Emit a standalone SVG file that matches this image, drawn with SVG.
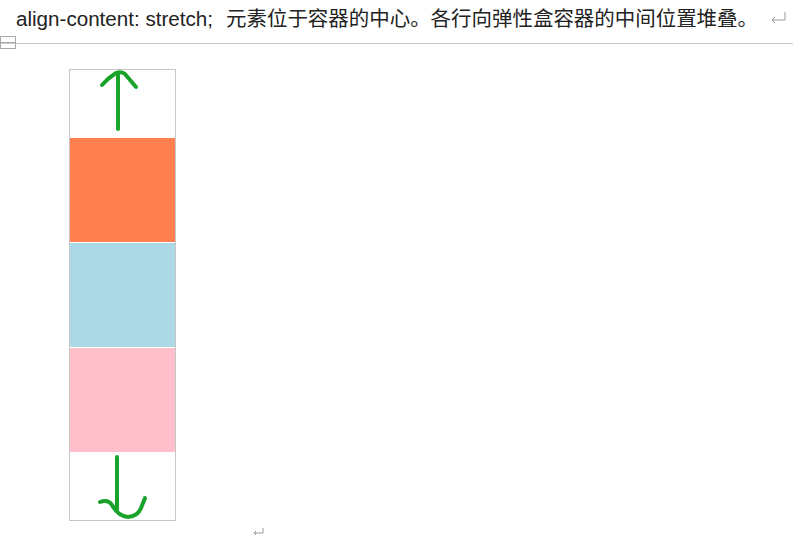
<svg xmlns="http://www.w3.org/2000/svg" width="793" height="535" viewBox="0 0 793 535">
<style>
.t{font-family:"Liberation Sans","Noto Sans CJK SC",sans-serif;font-size:20px;fill:#222}
.g{fill:none;stroke:#1aa32a;stroke-width:4;stroke-linecap:round;stroke-linejoin:round}
.mark{fill:none;stroke:#999;stroke-width:1}
</style>
<rect width="793" height="535" fill="#fff"/>
<g id="title">
<text class="t" x="16" y="26" textLength="197" lengthAdjust="spacingAndGlyphs">align-content: stretch;</text>
<text class="t" x="226" y="26" textLength="532" lengthAdjust="spacingAndGlyphs">元素位于容器的中心。各行向弹性盒容器的中间位置堆叠。</text>
<path class="mark" d="M785,12 V20 H772 M775,17 L772,20 L775,23"/>
</g>
<g id="rule">
<line x1="0" y1="43.5" x2="793" y2="43.5" stroke="#c8c8c8" stroke-width="1"/>
<rect x="0.5" y="36.5" width="15" height="12" fill="none" stroke="#aaa" stroke-width="1"/>
<line x1="0" y1="42.5" x2="15" y2="42.5" stroke="#aaa" stroke-width="1"/>
</g>
<g id="container">
<rect x="69.5" y="69.5" width="106" height="451" fill="#fff" stroke="#c6c6c6" stroke-width="1"/>
</g>
<g id="item1"><rect x="70" y="138" width="105" height="104" fill="#ff7f50"/></g>
<g id="item2"><rect x="70" y="243" width="105" height="104" fill="#add8e6"/></g>
<g id="item3"><rect x="70" y="348" width="105" height="104" fill="#ffc0cb"/></g>
<g id="connectors">
<path class="g" d="M118,129 L118,75"/>
<path class="g" d="M102,85 Q108,78 116,73 Q121,71 125,74 Q130,80 136,87"/>
<path class="g" d="M117,457 L117,509"/>
<path class="g" d="M100,502 Q108,499 112,505 Q118,516 128,517 Q138,516 141,508 Q143,503 145,498"/>
</g>
<path class="mark" d="M263,528 V533 H254 M256,531 L254,533 L256,535"/>
</svg>
